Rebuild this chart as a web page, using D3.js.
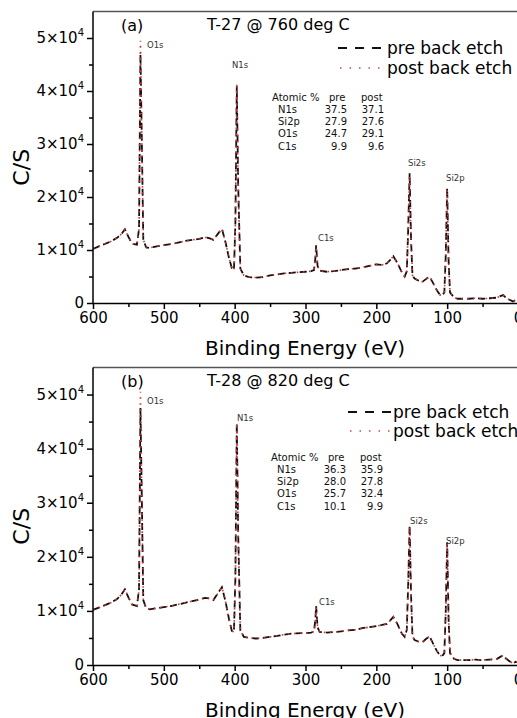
<!DOCTYPE html>
<html><head><meta charset="utf-8">
<script src="https://cdn.jsdelivr.net/npm/d3@7"></script>
<style>body{margin:0;background:#fff;} svg{display:block;font-family:"DejaVu Sans",sans-serif;}</style>
</head><body>
<script>
// Binding energies (eV)
const energy = [600,590,575,566,560,555,550,545,538,535,533,531,529,525,520,510,500,490,480,470,460,450,442,435,430,424,418,413,408,404,401,399,397,395,392,387,380,370,360,350,340,330,320,300,292,288,286,285,283,280,270,260,250,240,230,220,210,200,192,185,180,176,170,164,160,157,155,153,151,149,146,140,135,130,125,120,115,110,106,104,102,100,98,96,90,85,70,60,50,40,30,25,21,17,12,7,3,0];
// Panel (a) T-27
const preA = [10200,10800,11600,12300,13000,13900,12500,11200,11000,14000,
  47000,30000,12000,10500,10400,10700,10900,11100,11400,11700,
  11900,12100,12400,12200,11900,13000,14000,11500,8500,6600,
  6200,15000,40900,22000,6500,5200,4900,4800,4900,5200,
  5400,5600,5700,5900,6000,6200,8500,10900,7000,6100,
  5900,6000,6200,6400,6500,6700,7000,7300,7200,7500,
  8200,8800,7500,5800,5000,6000,14000,24500,12000,5200,
  4600,4200,4000,4500,5000,3800,2500,1500,1600,2000,
  9000,21700,8000,2000,1000,800,800,900,800,900,
  1000,1300,1500,1000,600,300,600,500];
const postA = [10200,10800,11600,12300,13000,13900,12500,11200,11000,14000,
  49500,30000,12000,10500,10400,10700,10900,11100,11400,11700,
  11900,12100,12400,12200,11900,13000,14000,11500,8500,6600,
  6200,15000,41500,22000,6500,5200,4900,4800,4900,5200,
  5400,5600,5700,5900,6000,6200,8500,10600,7000,6100,
  5900,6000,6200,6400,6500,6700,7000,7300,7200,7500,
  8200,8800,7500,5800,5000,6000,14000,24000,12000,5200,
  4600,4200,4000,4500,5000,3800,2500,1500,1600,2000,
  9000,21400,8000,2000,1000,800,800,900,800,900,
  1000,1300,1500,1000,600,300,600,500];
// Panel (b) T-28
const preB = [10200,10700,11500,12200,13000,14000,12500,11200,10900,14000,
  47500,30000,12000,10500,10300,10500,10700,10900,11200,11500,
  11800,12100,12400,12300,12000,13200,14400,11800,8500,6300,
  6100,16000,44700,24000,6400,5200,5000,4900,5000,5200,
  5400,5600,5800,5900,6000,6200,8500,10900,7000,6100,
  6000,6100,6200,6400,6500,6800,7000,7200,7400,7600,
  8300,8900,7500,5800,5200,6500,15000,25800,13000,5300,
  4600,4300,4200,4800,5300,4000,2700,1700,1800,2200,
  10000,22700,8500,2200,1100,900,900,1000,900,1000,
  1100,1500,1800,1200,700,300,600,500];
const postB = [10200,10700,11500,12200,13000,14000,12500,11200,10900,14000,
  50500,30000,12000,10500,10300,10500,10700,10900,11200,11500,
  11800,12100,12400,12300,12000,13200,14400,11800,8500,6300,
  6100,16000,44700,24000,6400,5200,5000,4900,5000,5200,
  5400,5600,5800,5900,6000,6200,8500,10600,7000,6100,
  6000,6100,6200,6400,6500,6800,7000,7200,7400,7600,
  8300,8900,7500,5800,5200,6500,15000,25500,13000,5300,
  4600,4300,4200,4800,5300,4000,2700,1700,1800,2200,
  10000,22500,8500,2200,1100,900,900,1000,900,1000,
  1100,1500,1800,1200,700,300,600,500];

const xTicks = [600,500,400,300,200,100,0];
const xMinor = [550,450,350,250,150,50];
const yTicks = [0,10000,20000,30000,40000,50000];
const yMinor = [5000,15000,25000,35000,45000];
const tableElements = ["N1s","Si2p","O1s","C1s"];
const tablePreA = ["37.5","27.9","24.7","9.9"];
const tablePostA = ["37.1","27.6","29.1","9.6"];
const tablePreB = ["36.3","28.0","25.7","10.1"];
const tablePostB = ["35.9","27.8","32.4","9.9"];
const peakNames = ["O1s","N1s","C1s","Si2s","Si2p"];

const W = 517, H = 718;
const svg = d3.select("body").append("svg").attr("width", W).attr("height", H);

const panels = [
  {id:"a", label:"(a)", title:"T-27 @ 760 deg C", pre:preA, post:postA, tpre:tablePreA, tpost:tablePostA,
   top:11.5, bottom:303, legX:338, legText:387, legY1:48, legY2:68, tabX:272, tabY:101,
   peaks:[[147,48],[232,68],[318,241],[408,166],[446,181]]},
  {id:"b", label:"(b)", title:"T-28 @ 820 deg C", pre:preB, post:postB, tpre:tablePreB, tpost:tablePostB,
   top:367.5, bottom:665, legX:348, legText:393, legY1:412, legY2:431, tabX:271, tabY:461,
   peaks:[[147,404],[237,421],[319,605],[410,524],[446,544]]}
];

const left = 93, right = 518;
const x = d3.scaleLinear().domain([600,0]).range([left,right]);

panels.forEach((p,pi) => {
  const y = d3.scaleLinear().domain([0,55000]).range([p.bottom,p.top]);
  const g = svg.append("g");
  const clipId = "clip"+p.id;
  svg.append("clipPath").attr("id",clipId).append("rect")
    .attr("x",left).attr("y",p.top).attr("width",right-left+2).attr("height",p.bottom-p.top);

  // frame (top border)
  g.append("line").attr("x1",left).attr("x2",W+2).attr("y1",p.top).attr("y2",p.top)
    .attr("stroke","#555").attr("stroke-width",1.5);

  const line = d3.line().x((d,i)=>x(energy[i])).y(d=>y(d));
  g.append("path").datum(p.pre).attr("d",line).attr("clip-path",`url(#${clipId})`)
    .attr("fill","none").attr("stroke","#111").attr("stroke-width",1.8).attr("stroke-dasharray","7,4");
  g.append("path").datum(p.post).attr("d",line).attr("clip-path",`url(#${clipId})`)
    .attr("fill","none").attr("stroke","#d03535").attr("stroke-width",1.6).attr("stroke-dasharray","1.6,4.5");

  // axes
  const xa = g.append("g").attr("transform",`translate(0,${p.bottom})`)
    .call(d3.axisBottom(x).tickValues(xTicks).tickSize(6).tickSizeOuter(0).tickPadding(3));
  g.append("g").attr("transform",`translate(0,${p.bottom})`)
    .call(d3.axisBottom(x).tickValues(xMinor).tickSize(4).tickFormat("")).select(".domain").remove();
  xa.selectAll("text").attr("font-size",15).attr("font-family","DejaVu Sans").attr("fill","#000");
  const ya = g.append("g").attr("transform",`translate(${left},0)`)
    .call(d3.axisLeft(y).tickValues(yTicks).tickSize(6).tickSizeOuter(0).tickPadding(3));
  g.append("g").attr("transform",`translate(${left},0)`)
    .call(d3.axisLeft(y).tickValues(yMinor).tickSize(4).tickFormat("")).select(".domain").remove();
  ya.select(".domain").attr("d",`M0,${p.bottom}V${p.top}`);
  ya.selectAll("text").attr("font-size",15).attr("font-family","DejaVu Sans").attr("fill","#000")
    .each(function(d){
      const t = d3.select(this); t.text("");
      if (d===0) { t.append("tspan").text("0"); }
      else {
        t.append("tspan").text(`${d/10000}×10`);
        t.append("tspan").attr("dy",-7).attr("font-size",10).text("4");
      }
    });
  g.selectAll(".domain, .tick line").attr("stroke","#000").attr("stroke-width",1.5);

  // axis titles
  g.append("text").attr("x",305).attr("y",p.bottom+52).attr("text-anchor","middle")
    .attr("font-size",20).text("Binding Energy (eV)");
  g.append("text").attr("transform",`translate(29,${(p.bottom+p.top)/2+10}) rotate(-90)`)
    .attr("text-anchor","middle").attr("font-size",22).text("C/S");

  // panel labels
  g.append("text").attr("x",121).attr("y",p.top+19).attr("font-size",16).text(p.label);
  g.append("text").attr("x",207).attr("y",p.top+18).attr("font-size",16).text(p.title);

  // legend
  g.append("line").attr("x1",p.legX).attr("x2",p.legX+43).attr("y1",p.legY1).attr("y2",p.legY1)
    .attr("stroke","#111").attr("stroke-width",2).attr("stroke-dasharray","9,8");
  g.append("text").attr("x",p.legText).attr("y",p.legY1+6).attr("font-size",17).text("pre back etch");
  g.append("line").attr("x1",p.legX+2).attr("x2",p.legX+42).attr("y1",p.legY2).attr("y2",p.legY2)
    .attr("stroke","#d04545").attr("stroke-width",1.5).attr("stroke-dasharray","1.5,8");
  g.append("text").attr("x",p.legText).attr("y",p.legY2+6).attr("font-size",17).text("post back etch");

  // atomic % table
  const tg = g.append("g").attr("font-size",10).attr("fill","#111");
  tg.append("text").attr("x",p.tabX).attr("y",p.tabY).text("Atomic %");
  tg.append("text").attr("x",p.tabX+57).attr("y",p.tabY).text("pre");
  tg.append("text").attr("x",p.tabX+89).attr("y",p.tabY).text("post");
  tableElements.forEach((el,i)=>{
    const yy = p.tabY + 12*(i+1) + (i===3?0.5:0);
    tg.append("text").attr("x",p.tabX+6).attr("y",yy).text(el);
    tg.append("text").attr("x",p.tabX+75).attr("y",yy).attr("text-anchor","end").text(p.tpre[i]);
    tg.append("text").attr("x",p.tabX+112).attr("y",yy).attr("text-anchor","end").text(p.tpost[i]);
  });

  // peak labels
  peakNames.forEach((nm,i)=>{
    g.append("text").attr("x",p.peaks[i][0]).attr("y",p.peaks[i][1]).attr("font-size",8.5)
      .attr("fill","#333").text(nm);
  });
});
</script>
</body></html>
